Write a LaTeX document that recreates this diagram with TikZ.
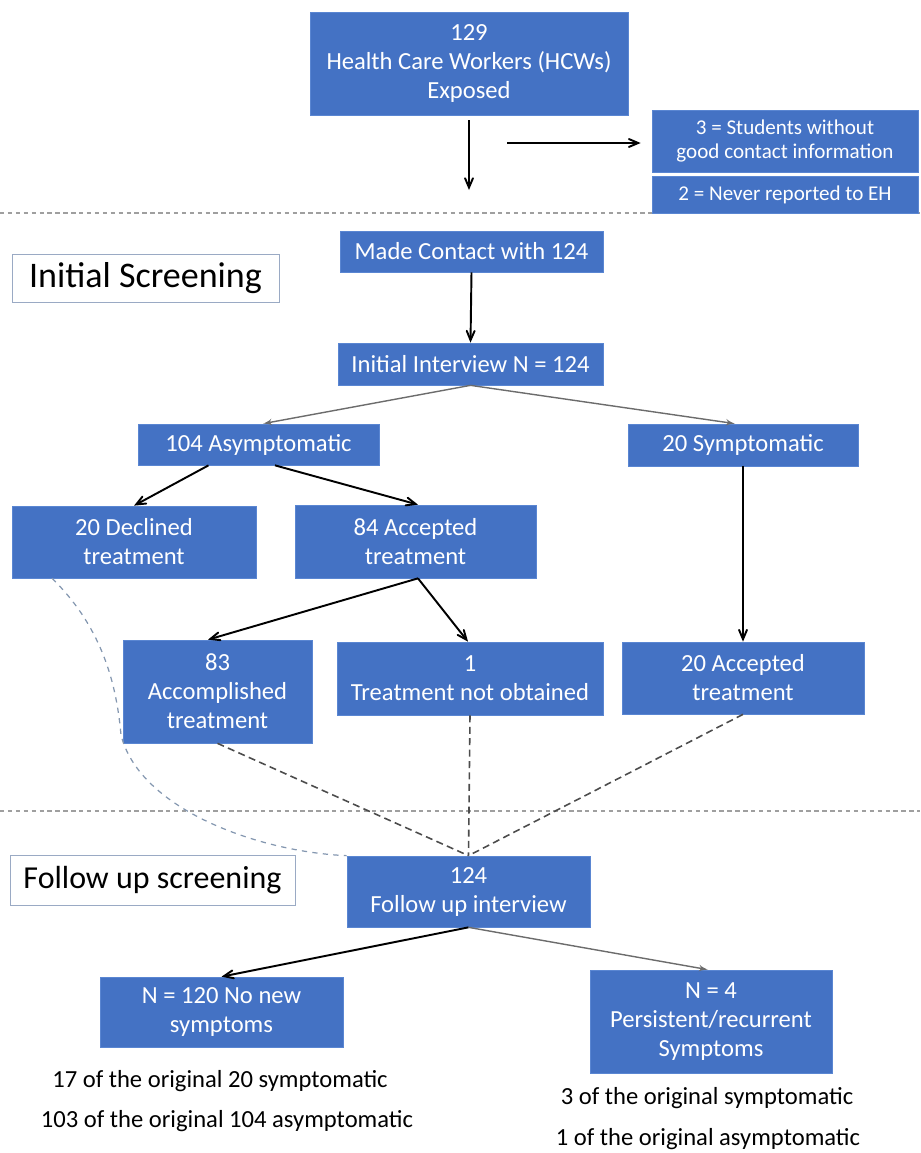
\documentclass[tikz,border=0pt]{standalone}
\usepackage{fontspec}
\setmainfont{Carlito}
\usepackage{tikz}
\usetikzlibrary{arrows}
\definecolor{boxblue}{HTML}{4472C4}
\definecolor{boxline}{HTML}{5A86D2}
\definecolor{framegray}{HTML}{9AAAC4}
\definecolor{curveblue}{HTML}{8497B0}

\begin{document}
\begin{tikzpicture}[x=0.02cm,y=-0.02cm]
\tikzset{box/.style = {shape=rectangle,draw=boxline,fill=boxblue,text=white,align=center,inner sep=0pt,font=\fontsize{14}{16.5}\selectfont}}
\tikzset{smallbox/.style = {box,font=\fontsize{12}{14}\selectfont}}
\tikzset{phase/.style = {shape=rectangle,draw=framegray,fill=white,inner sep=0pt}}
\tikzset{note/.style = {font=\fontsize{14}{16.5}\selectfont}}
\tikzset{flow/.style = {->,> = angle 45,line width=1.1pt}}
\tikzset{greyflow/.style = {-latex',line width=0.8pt,draw=gray!85!black}}
\tikzset{link/.style = {dash pattern=on 4pt off 2.5pt,line width=0.9pt,draw=gray!60!black}}
\tikzset{cut/.style = {dash pattern=on 2.5pt off 2pt,line width=1.1pt,draw=gray!75}}
\useasboundingbox (0,0) rectangle (920,1153);
% section dividers
\coordinate (cut1l) at (0,213);
\coordinate (cut1r) at (920,213);
\coordinate (cut2l) at (0,811);
\coordinate (cut2r) at (920,811);
\draw[cut] (cut1l) to (cut1r);
\draw[cut] (cut2l) to (cut2r);
% boxes
\node[box,minimum width=6.36cm,minimum height=2.06cm] (exposed) at (469,63.5) {129\\Health Care Workers (HCWs)\\Exposed};
\node[smallbox,minimum width=5.32cm,minimum height=1.24cm] (students) at (785,141) {3 = Students without\\good contact information};
\node[smallbox,minimum width=5.32cm,minimum height=0.74cm] (neverrep) at (785,194.5) {2 = Never reported to EH};
\node[box,minimum width=5.26cm,minimum height=0.82cm] (contact) at (471.5,251.5) {Made Contact with 124};
\node[phase,minimum width=5.34cm,minimum height=0.96cm,font=\fontsize{20.5}{24}\selectfont] (initscr) at (145.5,278) {Initial Screening};
\node[box,minimum width=5.30cm,minimum height=0.84cm] (interview) at (470.5,364) {Initial Interview N = 124};
\node[box,minimum width=4.82cm,minimum height=0.82cm] (asym) at (258.5,444.5) {104 Asymptomatic};
\node[box,minimum width=4.60cm,minimum height=0.84cm] (sym) at (743,445) {20 Symptomatic};
\node[box,minimum width=4.88cm,minimum height=1.44cm] (declined) at (134,542) {20 Declined\\treatment};
\node[box,minimum width=4.82cm,minimum height=1.46cm] (accasym) at (415.5,541.5) {84 Accepted\\treatment};
\node[box,minimum width=3.78cm,minimum height=2.06cm] (accomp) at (217.5,691.5) {83\\Accomplished\\treatment};
\node[box,minimum width=5.32cm,minimum height=1.46cm] (notobt) at (470,678.5) {1\\Treatment not obtained};
\node[box,minimum width=4.84cm,minimum height=1.44cm] (accsym) at (743,678) {20 Accepted\\treatment};
\node[phase,minimum width=5.70cm,minimum height=1.00cm,font=\fontsize{18.2}{22}\selectfont] (fuscr) at (152.5,880) {Follow up screening};
\node[box,minimum width=4.86cm,minimum height=1.42cm] (fuint) at (468.5,891.5) {124\\Follow up interview};
\node[box,minimum width=4.86cm,minimum height=1.40cm] (nonew) at (221.5,1012) {N = 120 No new\\symptoms};
\node[box,minimum width=4.84cm,minimum height=2.06cm] (persist) at (711,1021.5) {N = 4\\Persistent/recurrent\\Symptoms};
% notes under the last boxes
\node[note] (orig20) at (220,1081) {17 of the original 20 symptomatic};
\node[note] (orig104) at (227,1121) {103 of the original 104 asymptomatic};
\node[note] (origsym) at (707,1098) {3 of the original symptomatic};
\node[note] (origasym) at (708,1139) {1 of the original asymptomatic};
% connectors
\coordinate (down) at (469,190);
\coordinate (side) at (507,143);
\draw[flow] ([yshift=-0.1cm]exposed.south) to (down);
\draw[flow] (side) to ([xshift=-0.22cm,yshift=-0.04cm]students.west);
\draw[flow] (contact.south) to (interview.north);
\draw[greyflow] (interview.south) to ([xshift=0.09cm]asym.north);
\draw[greyflow] (interview.south) to ([xshift=-0.16cm]sym.north);
\draw[flow] ([xshift=-1cm]asym.south) to (declined.north);
\draw[flow] ([xshift=0.33cm]asym.south) to ([xshift=0.05cm]accasym.north);
\draw[flow] ([xshift=0.05cm]accasym.south) to ([xshift=-0.19cm]accomp.north);
\draw[flow] ([xshift=0.05cm]accasym.south) to ([xshift=-0.04cm]notobt.north);
\draw[flow] (sym.south) to (accsym.north);
\draw[link] (accomp.south) to (fuint.north);
\draw[link] (notobt.south) to (fuint.north);
\draw[link] (accsym.south) to (fuint.north);
\draw[dashed,line width=0.7pt,curveblue] ([xshift=-1.64cm]declined.south) .. controls (105,630) and (117,690) .. (121,735) .. controls (140,810) and (260,852) .. (fuint.north west);
\draw[flow] (fuint.south) to (nonew.north);
\draw[greyflow] (fuint.south) to ([xshift=-0.06cm]persist.north);
\end{tikzpicture}
\end{document}
